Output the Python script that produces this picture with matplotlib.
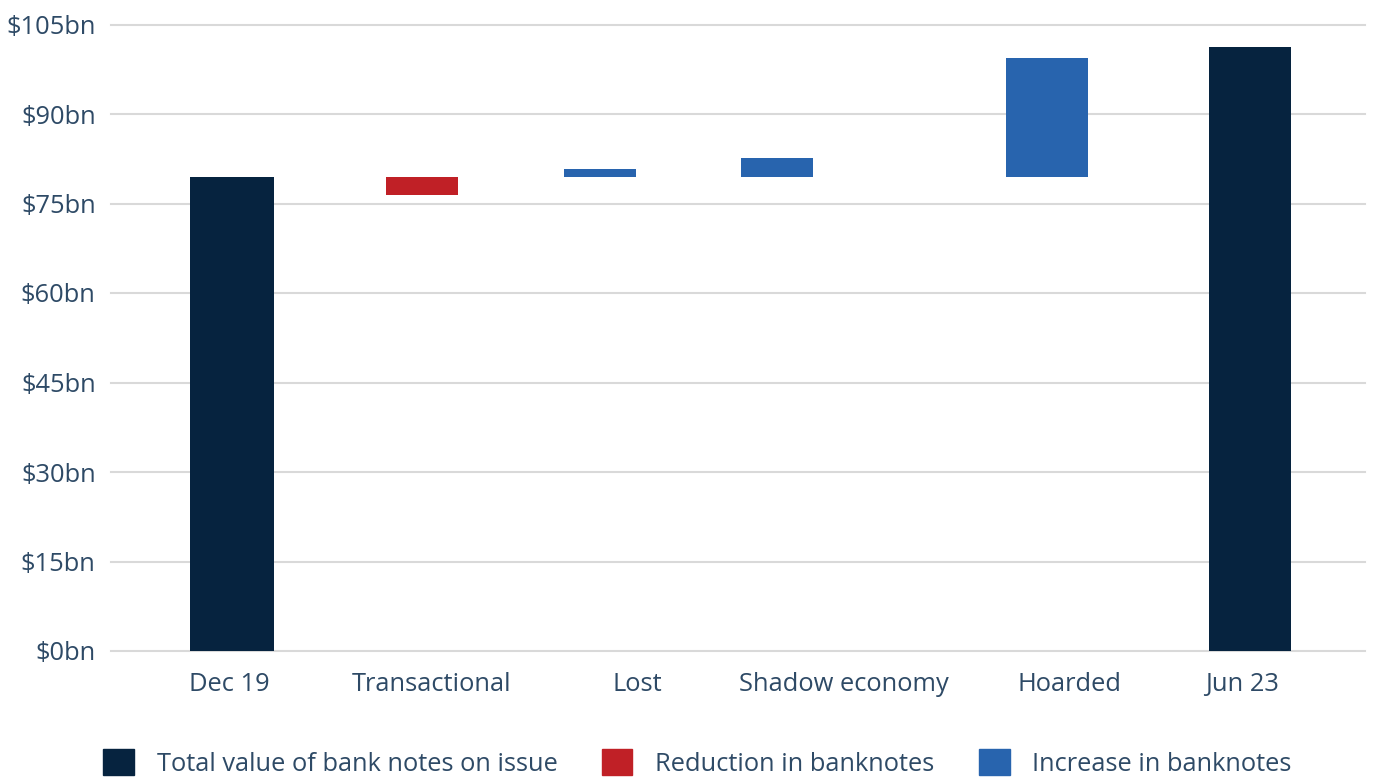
import matplotlib.pyplot as plt
from matplotlib.patches import Patch

# values ($bn)
categories = ['Dec 19', 'Transactional', 'Lost', 'Shadow economy', 'Hoarded', 'Jun 23']
start_total = 79.4
changes = [-3.0, 1.3, 3.3, 20.0]   # each measured from the Dec 19 level
end_total = 101.2
yticks = [0, 15, 30, 45, 60, 75, 90, 105]

navy = '#06233f'
red = '#c02026'
blue = '#2864ae'
txt = '#2e4a66'

plt.rcParams['font.family'] = ['Open Sans', 'DejaVu Sans']

# layout: where the labels and bars sit (the source graphic is not evenly spaced)
label_x = [0, 1.0, 2.01, 3.03, 4.14, 4.99]
bar_x = [0.015, 0.951, 1.828, 2.70, 4.03, 5.03]
bar_w = [0.41, 0.35, 0.355, 0.355, 0.405, 0.405]

fig = plt.figure(figsize=(13.73, 7.80), dpi=100)
ax = fig.add_axes([111/1373, 129/780, 1254/1373, 626.5/780])

# totals
ax.bar(bar_x[0], start_total, width=bar_w[0], color=navy, zorder=3)
ax.bar(bar_x[5], end_total, width=bar_w[5], color=navy, zorder=3)

# changes relative to the starting level
for i, c in enumerate(changes):
    col = red if c < 0 else blue
    ax.bar(bar_x[i+1], c, bottom=start_total, width=bar_w[i+1], color=col, zorder=3)

ax.set_xlim(-0.581, 5.596)
ax.set_ylim(0, 105)
ax.set_yticks(yticks)
ax.set_yticklabels(['$%dbn' % v for v in yticks])
ax.set_xticks(label_x)
ax.set_xticklabels(categories)
ax.grid(axis='y', color='#d9d9d9', linewidth=1.5, zorder=0)
for g in ax.get_ygridlines():
    g.set_clip_on(False)
ax.tick_params(axis='y', length=0, pad=11, labelsize=18.4, labelcolor=txt)
ax.tick_params(axis='x', length=0, pad=15, labelsize=18.4, labelcolor=txt)
for s in ax.spines.values():
    s.set_visible(False)

handles = [Patch(color=navy, label='Total value of bank notes on issue'),
           Patch(color=red, label='Reduction in banknotes'),
           Patch(color=blue, label='Increase in banknotes')]
fig.legend(handles=handles, loc='center', bbox_to_anchor=(0.5 + 11/1373, 17/780), ncol=3,
           frameon=False, fontsize=18.3, labelcolor=txt, handlelength=1.2,
           handleheight=1.2, handletextpad=0.9, columnspacing=1.75,
           borderpad=0.1)

fig.savefig('out.png', dpi=100)
